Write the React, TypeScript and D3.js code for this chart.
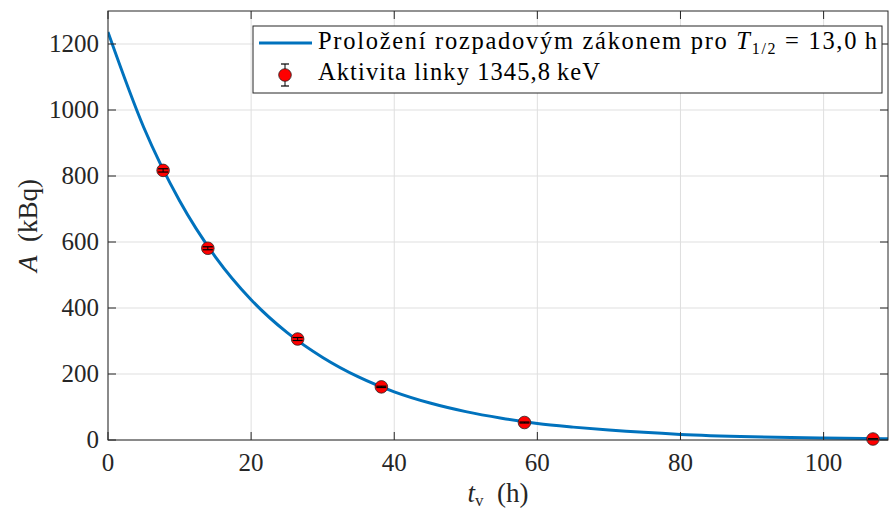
import React from 'react';
import * as d3 from 'd3';

// measured activity of the 1345.8 keV line
const pointT = [7.7, 13.95, 26.5, 38.2, 58.2, 106.9];
const pointA = [817, 581, 306, 161, 53, 3];
const pointErr = [5, 4.5, 4.5, 2, 1.5, 1];

// fitted decay curve (T1/2 = 13.0 h)
const curveT = [0, 5, 10, 15, 20, 25, 30, 35, 40, 45, 50, 55, 60, 65, 70, 80, 90, 100, 109];
const curveA = [1236, 947, 725, 555, 425, 326, 250, 191, 146, 112, 86, 66, 50, 39, 30, 17, 10, 6, 3.6];

const xTicks = [0, 20, 40, 60, 80, 100];
const yTicks = [0, 200, 400, 600, 800, 1000, 1200];

const W = 889;
const H = 511;
const margin = { left: 108, right: 1, top: 11, bottom: 71 };
const FONT = '"Liberation Serif"';
const axisColor = '#262626';

const css = `
svg#decayChart text, svg#decayChart tspan { font-family: "Liberation Serif", "Times New Roman", serif !important; }
svg#decayChart tspan.it { font-style: italic !important; }
`;

const App = () => {
    const x = d3.scaleLinear().domain([0, 109]).range([margin.left, W - margin.right]);
    const y = d3.scaleLinear().domain([0, 1300]).range([H - margin.bottom, margin.top]);

    const line = d3.line<number>()
        .x((d, i) => x(curveT[i]))
        .y(d => y(d))
        .curve(d3.curveMonotoneX);

    const x0 = x(0), x1 = x(109), y0 = y(0), y1 = y(1300);
    const cap = 5;

    return (
        <svg id="decayChart" width={W} height={H} fontFamily="Liberation Serif"
            style={{ position: 'absolute', left: 0, top: 0, background: '#fff' }}>
            <style>{css}</style>
            {/* grid */}
            {xTicks.map(t => (
                <line key={'gx' + t} x1={x(t)} x2={x(t)} y1={y0} y2={y1} stroke="#dfdfdf" strokeWidth={1} />
            ))}
            {yTicks.map(t => (
                <line key={'gy' + t} x1={x0} x2={x1} y1={y(t)} y2={y(t)} stroke="#dfdfdf" strokeWidth={1} />
            ))}

            {/* fitted curve */}
            <defs>
                <clipPath id="plotClip">
                    <rect x={x0} y={y1} width={x1 - x0} height={y0 - y1} />
                </clipPath>
            </defs>
            <path d={line(curveA) || ''} fill="none" stroke="#0072bd" strokeWidth={3} clipPath="url(#plotClip)" />

            {/* measured points */}
            {pointT.map((t, i) => (
                <g key={'p' + i}>
                    <circle cx={x(t)} cy={y(pointA[i])} r={6.3} fill="#ff0000" stroke="#262626" strokeWidth={0.8} />
                    <line x1={x(t)} x2={x(t)} y1={y(pointA[i] - pointErr[i])} y2={y(pointA[i] + pointErr[i])} stroke="#000" strokeWidth={1} />
                    <line x1={x(t) - cap} x2={x(t) + cap} y1={y(pointA[i] - pointErr[i])} y2={y(pointA[i] - pointErr[i])} stroke="#000" strokeWidth={1.2} />
                    <line x1={x(t) - cap} x2={x(t) + cap} y1={y(pointA[i] + pointErr[i])} y2={y(pointA[i] + pointErr[i])} stroke="#000" strokeWidth={1.2} />
                </g>
            ))}

            {/* axes box */}
            <rect x={x0} y={y1} width={x1 - x0} height={y0 - y1} fill="none" stroke={axisColor} strokeWidth={1} />
            {xTicks.map(t => (
                <g key={'tx' + t}>
                    <line x1={x(t)} x2={x(t)} y1={y0} y2={y0 - 8} stroke={axisColor} />
                    <line x1={x(t)} x2={x(t)} y1={y1} y2={y1 + 8} stroke={axisColor} />
                    <text x={x(t)} y={y0 + 31} textAnchor="middle" fontSize={25} fill={axisColor} style={{ fontFamily: FONT }}>{String(t)}</text>
                </g>
            ))}
            {yTicks.map(t => (
                <g key={'ty' + t}>
                    <line x1={x0} x2={x0 + 8} y1={y(t)} y2={y(t)} stroke={axisColor} />
                    <line x1={x1} x2={x1 - 8} y1={y(t)} y2={y(t)} stroke={axisColor} />
                    <text x={x0 - 9} y={y(t) + 8} textAnchor="end" fontSize={25} fill={axisColor} style={{ fontFamily: FONT }}>{String(t)}</text>
                </g>
            ))}

            {/* axis labels */}
            <text x={(x0 + x1) / 2} y={502} textAnchor="middle" fontSize={27} fill={axisColor} style={{ fontFamily: FONT }}>
                <tspan className="it" fontStyle="italic">t</tspan>
                <tspan fontSize={17} dy={4}>v</tspan>
                <tspan dy={-4}>{'\u2002(h)'}</tspan>
            </text>
            <text transform={`translate(37,${(y0 + y1) / 2}) rotate(-90)`} textAnchor="middle" fontSize={27} fill={axisColor} style={{ fontFamily: FONT }}>
                <tspan className="it" fontStyle="italic">A</tspan>
                <tspan>{'\u2002(kBq)'}</tspan>
            </text>

            {/* legend */}
            <g>
                <rect x={253} y={26} width={629} height={67} fill="#fff" stroke={axisColor} strokeWidth={1} />
                <line x1={259} x2={312} y1={43} y2={43} stroke="#0072bd" strokeWidth={3} />
                <text x={318} y={49} fontSize={24.5} fill="#000" style={{ fontFamily: FONT }} textLength={559} lengthAdjust="spacing">
                    <tspan>{'Proložení rozpadovým zákonem pro '}</tspan>
                    <tspan className="it" fontStyle="italic">T</tspan>
                    <tspan fontSize={16} dy={5}>1/2</tspan>
                    <tspan dy={-5}>{' = 13,0\u2009h'}</tspan>
                </text>
                <line x1={285} x2={285} y1={64} y2={86} stroke="#000" strokeWidth={1} />
                <line x1={281} x2={289} y1={64} y2={64} stroke="#000" strokeWidth={1.2} />
                <line x1={281} x2={289} y1={86} y2={86} stroke="#000" strokeWidth={1.2} />
                <circle cx={285} cy={75} r={6.3} fill="#ff0000" stroke="#262626" strokeWidth={0.8} />
                <text x={318} y={80} fontSize={24.5} fill="#000" style={{ fontFamily: FONT }} textLength={282} lengthAdjust="spacing">
                    {'Aktivita linky 1345,8\u2009keV'}
                </text>
            </g>
        </svg>
    );
};

export default App;
